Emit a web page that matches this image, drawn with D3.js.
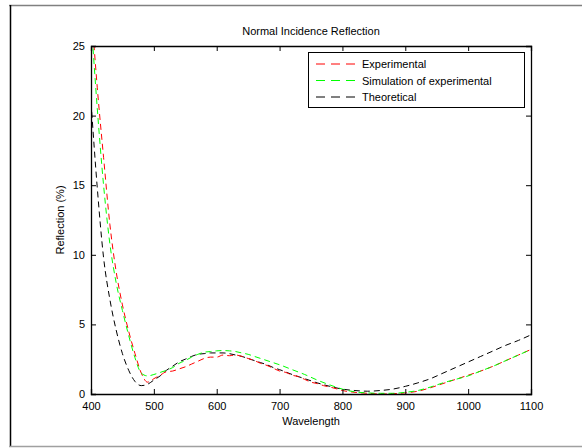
<!DOCTYPE html>
<html><head><meta charset="utf-8">
<script src="https://cdn.jsdelivr.net/npm/d3@7"></script>
<style>body{margin:0;background:#fff}svg{display:block}text{font-family:"Liberation Sans",Arial,Helvetica,sans-serif}</style>
</head><body><svg id="c" width="582" height="448"></svg>
<script>
const wavelengthExp = [400,410,420,430,440,450,460,470,480,490,500,510,520,530,540,550,560,570,580,590,600,610,620,630,640,650,660,670,680,690,700,710,720,730,740,750,760,770,780,790,800,820,840,860,880,900,920,940,960,980,1000,1020,1040,1060,1080,1100];
const experimental = [28,22,17,12.2,8.8,6.4,4.5,2.9,1.5,0.85,1.1,1.35,1.6,1.65,1.8,1.95,2.15,2.35,2.55,2.65,2.65,2.8,2.75,2.8,2.7,2.55,2.4,2.2,2.05,1.85,1.65,1.55,1.35,1.25,1.05,0.85,0.75,0.6,0.5,0.38,0.25,0.12,0.05,0.0,0.02,0.08,0.2,0.45,0.75,1.05,1.35,1.65,2.0,2.4,2.8,3.2];
const wavelengthSim = [400,410,420,430,440,450,460,470,480,490,500,510,520,530,540,550,560,570,580,590,600,610,620,630,640,650,660,670,680,690,700,720,740,760,780,800,820,840,860,880,900,920,940,960,980,1000,1020,1040,1060,1080,1100];
const simulation = [27,20.5,15,10.8,8.0,6.0,4.2,2.6,1.5,1.3,1.4,1.55,1.7,1.9,2.2,2.4,2.65,2.85,3.0,3.05,3.1,3.12,3.1,3.05,2.95,2.85,2.7,2.55,2.4,2.25,2.1,1.75,1.4,1.0,0.65,0.35,0.15,0.08,0.05,0.05,0.12,0.25,0.5,0.8,1.05,1.3,1.65,2.0,2.4,2.8,3.2];
const wavelengthTheo = [400,410,420,430,440,450,460,470,480,490,500,510,520,530,540,550,560,570,580,590,600,610,620,630,640,650,660,670,680,690,700,720,740,760,780,800,820,840,860,880,900,920,940,960,980,1000,1020,1040,1060,1080,1100];
const theoretical = [21,14.8,9.8,6.8,4.6,2.9,1.7,0.9,0.6,0.7,1.0,1.3,1.7,2.0,2.3,2.5,2.7,2.85,2.9,2.95,2.95,2.95,2.9,2.8,2.7,2.55,2.4,2.25,2.1,1.9,1.75,1.4,1.1,0.8,0.55,0.35,0.25,0.2,0.25,0.35,0.55,0.8,1.1,1.5,1.9,2.3,2.7,3.1,3.5,3.85,4.25];
const xTicks = [400,500,600,700,800,900,1000,1100];
const yTicks = [0,5,10,15,20,25];
const seriesNames = ["Experimental","Simulation of experimental","Theoretical"];
const seriesColors = ["#ff0000","#00ff00","#000000"];

const svg = d3.select("#c");
const L=91,R=531,T=46,B=394;
const x = d3.scaleLinear().domain([400,1100]).range([L,R]);
const y = d3.scaleLinear().domain([0,25]).range([B,T]);

// outer frame
svg.append("line").attr("x1",9).attr("x2",582).attr("y1",5.5).attr("y2",5.5).attr("stroke","#808080").attr("stroke-width",1.5);
svg.append("line").attr("x1",10.5).attr("x2",10.5).attr("y1",5).attr("y2",447).attr("stroke","#000").attr("stroke-width",1.5);
svg.append("line").attr("x1",9).attr("x2",582).attr("y1",446.5).attr("y2",446.5).attr("stroke","#a0a0a0").attr("stroke-width",1.5);

svg.append("defs").append("clipPath").attr("id","clip").append("rect").attr("x",L).attr("y",T).attr("width",R-L).attr("height",B-T);

const data = [
  wavelengthExp.map((w,i)=>[w,experimental[i]]),
  wavelengthSim.map((w,i)=>[w,simulation[i]]),
  wavelengthTheo.map((w,i)=>[w,theoretical[i]])
];
const line = d3.line().x(d=>x(d[0])).y(d=>y(d[1])).curve(d3.curveMonotoneX);
const g = svg.append("g").attr("clip-path","url(#clip)");
[2,0,1].forEach(i=>{
  g.append("path").attr("d",line(data[i])).attr("fill","none").attr("stroke",seriesColors[i]).attr("stroke-width",1).attr("stroke-dasharray","6,4");
});

// axes
const ax = svg.append("g").attr("transform",`translate(0,${B})`).call(d3.axisBottom(x).tickValues(xTicks).tickSize(-5).tickPadding(8).tickFormat(d3.format("d")));
const axT = svg.append("g").attr("transform",`translate(0,${T})`).call(d3.axisTop(x).tickValues(xTicks).tickSize(-5).tickFormat(""));
const ay = svg.append("g").attr("transform",`translate(${L},0)`).call(d3.axisLeft(y).tickValues(yTicks).tickSize(-5).tickPadding(6));
const ayR = svg.append("g").attr("transform",`translate(${R},0)`).call(d3.axisRight(y).tickValues(yTicks).tickSize(-5).tickFormat(""));
[ax,axT,ay,ayR].forEach(a=>{
  a.selectAll(".domain").attr("stroke","#000").attr("stroke-width",1.3);
  a.selectAll(".tick line").attr("stroke","#000");
  a.selectAll("text").attr("font-size",11).attr("fill","#000").attr("font-family","Liberation Sans, Arial, sans-serif");
});

svg.append("text").attr("x",311).attr("y",35).attr("text-anchor","middle").attr("font-size",11).text("Normal Incidence Reflection");
svg.append("text").attr("x",311).attr("y",425).attr("text-anchor","middle").attr("font-size",11).text("Wavelength");
svg.append("text").attr("transform","translate(64,220) rotate(-90)").attr("text-anchor","middle").attr("font-size",11).text("Reflection (%)");

// legend
const lg = svg.append("g");
lg.append("rect").attr("x",308.5).attr("y",52.5).attr("width",216).attr("height",55).attr("fill","#fff").attr("stroke","#000").attr("stroke-width",1);
seriesNames.forEach((n,i)=>{
  const yy = 64 + i*16.5;
  lg.append("line").attr("x1",316).attr("x2",358).attr("y1",yy).attr("y2",yy).attr("stroke",seriesColors[i]).attr("stroke-dasharray","9,6").attr("stroke-width",1);
  lg.append("text").attr("x",362).attr("y",yy+4).attr("font-size",11).text(n);
});
</script></body></html>
